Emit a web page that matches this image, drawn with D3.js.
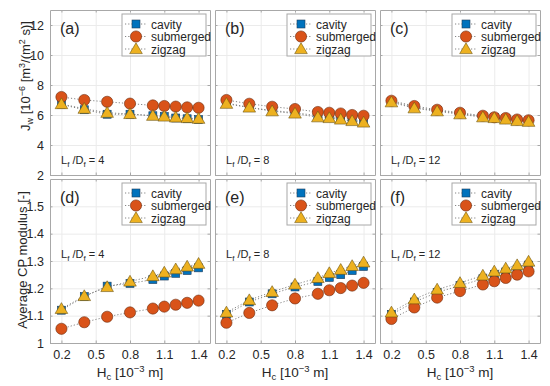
<!DOCTYPE html>
<html>
<head>
<meta charset="utf-8">
<script src="https://cdn.jsdelivr.net/npm/d3@7"></script>
<style>
  body { margin: 0; background: #fff; }
  text { font-family: "Liberation Sans", Arial, sans-serif; fill: #262626; }
</style>
</head>
<body>
<div id="chart"></div>
<script>
// x values (H_c, 10^-3 m)
var hc = [0.2, 0.4, 0.6, 0.8, 1.0, 1.1, 1.2, 1.3, 1.4];
var xTicks = [0.2, 0.5, 0.8, 1.1, 1.4];
var jwTicks = [2, 4, 6, 8, 10, 12];
var cpTicks = [1, 1.1, 1.2, 1.3, 1.4, 1.5];
var ratios = [4, 8, 12];
var panelLetters = ["(a)", "(b)", "(c)", "(d)", "(e)", "(f)"];
var seriesNames = ["cavity", "submerged", "zigzag"];

// water flux J_w, one array per ratio L_f/D_f
var jwCavity4 = [6.70, 6.35, 6.05, 6.05, 5.95, 5.90, 5.80, 5.75, 5.70];
var jwSubmerged4 = [7.20, 7.00, 6.88, 6.76, 6.64, 6.60, 6.56, 6.51, 6.48];
var jwZigzag4 = [6.73, 6.42, 6.15, 6.07, 5.95, 5.90, 5.84, 5.80, 5.75];
var jwCavity8 = [6.80, 6.50, 6.30, 6.15, 5.95, 5.90, 5.80, 5.70, 5.60];
var jwSubmerged8 = [7.00, 6.75, 6.55, 6.40, 6.20, 6.15, 6.10, 6.00, 5.95];
var jwZigzag8 = [6.75, 6.50, 6.25, 6.10, 5.85, 5.80, 5.70, 5.60, 5.50];
var jwCavity12 = [6.90, 6.50, 6.30, 6.10, 5.90, 5.85, 5.75, 5.65, 5.60];
var jwSubmerged12 = [6.95, 6.60, 6.35, 6.15, 5.95, 5.85, 5.80, 5.70, 5.65];
var jwZigzag12 = [6.85, 6.45, 6.25, 6.05, 5.85, 5.80, 5.70, 5.60, 5.55];

// average CP modulus
var cpCavity4 = [1.120, 1.170, 1.208, 1.218, 1.232, 1.245, 1.255, 1.265, 1.275];
var cpSubmerged4 = [1.052, 1.076, 1.096, 1.112, 1.126, 1.133, 1.140, 1.147, 1.155];
var cpZigzag4 = [1.125, 1.172, 1.205, 1.225, 1.245, 1.258, 1.270, 1.280, 1.290];
var cpCavity8 = [1.105, 1.150, 1.180, 1.205, 1.225, 1.240, 1.250, 1.265, 1.280];
var cpSubmerged8 = [1.074, 1.110, 1.138, 1.163, 1.180, 1.193, 1.201, 1.210, 1.220];
var cpZigzag8 = [1.112, 1.157, 1.187, 1.214, 1.238, 1.256, 1.268, 1.282, 1.295];
var cpCavity12 = [1.105, 1.150, 1.185, 1.210, 1.235, 1.250, 1.260, 1.270, 1.285];
var cpSubmerged12 = [1.088, 1.130, 1.166, 1.190, 1.214, 1.226, 1.238, 1.250, 1.262];
var cpZigzag12 = [1.112, 1.160, 1.196, 1.220, 1.247, 1.262, 1.273, 1.285, 1.298];

var jwData = [
  [jwCavity4, jwSubmerged4, jwZigzag4],
  [jwCavity8, jwSubmerged8, jwZigzag8],
  [jwCavity12, jwSubmerged12, jwZigzag12]
];
var cpData = [
  [cpCavity4, cpSubmerged4, cpZigzag4],
  [cpCavity8, cpSubmerged8, cpZigzag8],
  [cpCavity12, cpSubmerged12, cpZigzag12]
];

var width = 550, height = 386;
var colLeft = [50, 215, 380];
var panelW = 160;
var rows = [
  { top: 10, bottom: 175, domain: [2, 13], ticks: jwTicks, data: jwData, fmt: d3.format("d") },
  { top: 179, bottom: 343, domain: [1, 1.6], ticks: cpTicks, data: cpData, fmt: function (d) { return d === 1 ? "1" : d3.format(".1f")(d); } }
];
var fills = ["#0072BD", "#D95319", "#EDB120"];
var strokes = ["#1f3c5a", "#6b2a0c", "#6e5510"];
var frameColor = "#a8a8a8";

var svg = d3.select("#chart").append("svg")
  .attr("width", width)
  .attr("height", height);

function drawMarker(g, i) {
  if (i === 0) {
    g.append("rect").attr("x", -4).attr("y", -4).attr("width", 8).attr("height", 8)
      .attr("fill", fills[0]).attr("stroke", strokes[0]).attr("stroke-width", 0.6);
  } else if (i === 1) {
    g.append("circle").attr("r", 5.6)
      .attr("fill", fills[1]).attr("stroke", strokes[1]).attr("stroke-width", 0.6);
  } else {
    g.append("path").attr("d", "M0,-6.2L6.3,4.6L-6.3,4.6Z")
      .attr("fill", fills[2]).attr("stroke", strokes[2]).attr("stroke-width", 0.6);
  }
}

rows.forEach(function (row, r) {
  ratios.forEach(function (ratio, c) {
    var x = d3.scaleLinear().domain([0.1, 1.5]).range([colLeft[c], colLeft[c] + panelW]);
    var y = d3.scaleLinear().domain(row.domain).range([row.bottom, row.top]);
    var g = svg.append("g");

    // grid
    g.append("g")
      .attr("transform", "translate(0," + row.bottom + ")")
      .call(d3.axisBottom(x).tickValues(xTicks).tickSize(-(row.bottom - row.top)).tickFormat(""))
      .call(function (a) { a.select(".domain").remove(); a.selectAll("line").attr("stroke", "#ebebeb"); });
    g.append("g")
      .attr("transform", "translate(" + colLeft[c] + ",0)")
      .call(d3.axisLeft(y).tickValues(row.ticks).tickSize(-panelW).tickFormat(""))
      .call(function (a) { a.select(".domain").remove(); a.selectAll("line").attr("stroke", "#ebebeb"); });

    // frame with inward ticks
    var axB = g.append("g").attr("transform", "translate(0," + row.bottom + ")")
      .call(d3.axisBottom(x).tickValues(xTicks).tickSizeInner(-2.5).tickSizeOuter(0).tickPadding(7)
        .tickFormat(r === 1 ? d3.format(".1f") : ""));
    var axT = g.append("g").attr("transform", "translate(0," + row.top + ")")
      .call(d3.axisTop(x).tickValues(xTicks).tickSizeInner(-2.5).tickSizeOuter(0).tickFormat(""));
    var axL = g.append("g").attr("transform", "translate(" + colLeft[c] + ",0)")
      .call(d3.axisLeft(y).tickValues(row.ticks).tickSizeInner(-2.5).tickSizeOuter(0).tickPadding(6)
        .tickFormat(c === 0 ? row.fmt : ""));
    var axR = g.append("g").attr("transform", "translate(" + (colLeft[c] + panelW) + ",0)")
      .call(d3.axisRight(y).tickValues(row.ticks).tickSizeInner(-2.5).tickSizeOuter(0).tickFormat(""));
    [axB, axT, axL, axR].forEach(function (a) {
      a.select(".domain").attr("stroke", frameColor);
      a.selectAll(".tick line").attr("stroke", frameColor);
      a.selectAll(".tick text").attr("fill", "#333").style("font-size", "12.5px")
        .style("font-family", "Liberation Sans, Arial, sans-serif");
    });

    // series
    row.data[c].forEach(function (vals, i) {
      var pts = hc.map(function (h, k) { return [h, vals[k]]; });
      g.append("path")
        .datum(pts)
        .attr("fill", "none")
        .attr("stroke", "#777")
        .attr("stroke-width", 0.9)
        .attr("stroke-dasharray", "1.2,2")
        .attr("d", d3.line().x(function (d) { return x(d[0]); }).y(function (d) { return y(d[1]); }));
    });
    row.data[c].forEach(function (vals, i) {
      g.selectAll("g.m" + i)
        .data(hc.map(function (h, k) { return [h, vals[k]]; }))
        .enter().append("g")
        .attr("class", "m" + i)
        .attr("transform", function (d) { return "translate(" + x(d[0]) + "," + y(d[1]) + ")"; })
        .each(function () { drawMarker(d3.select(this), i); });
    });

    // panel letter
    g.append("text")
      .attr("x", colLeft[c] + 10)
      .attr("y", row.top + 24)
      .style("font-size", "16px")
      .text(panelLetters[r * 3 + c]);

    // ratio label
    var lab = g.append("text")
      .attr("x", colLeft[c] + 11)
      .attr("y", r === 0 ? row.top + 154 : row.top + 79)
      .style("font-size", "11px");
    lab.append("tspan").text("L");
    lab.append("tspan").attr("dy", 3).style("font-size", "8px").text("f");
    lab.append("tspan").attr("dy", -3).text(" /D");
    lab.append("tspan").attr("dy", 3).style("font-size", "8px").text("f");
    lab.append("tspan").attr("dy", -3).text(" = " + ratio);

    // legend
    var lx = colLeft[c] + 72, ly = row.top + 4;
    var leg = g.append("g").attr("transform", "translate(" + lx + "," + ly + ")");
    leg.append("rect").attr("width", 84).attr("height", 42)
      .attr("fill", "#fff").attr("stroke", frameColor).attr("stroke-width", 1);
    seriesNames.forEach(function (name, i) {
      var yy = 10 + i * 12.5;
      leg.append("line").attr("x1", 3).attr("x2", 25).attr("y1", yy).attr("y2", yy)
        .attr("stroke", "#777").attr("stroke-width", 0.9).attr("stroke-dasharray", "1.2,2");
      var m = leg.append("g").attr("transform", "translate(14," + yy + ")");
      drawMarker(m, i);
      leg.append("text").attr("x", 29).attr("y", yy + 4.5).style("font-size", "12px").text(name);
    });
  });
});

// y labels
var yl1 = svg.append("text")
  .attr("transform", "translate(30,76) rotate(-90)")
  .attr("text-anchor", "middle")
  .style("font-size", "13px");
yl1.append("tspan").text("J");
yl1.append("tspan").attr("dy", 3).style("font-size", "9px").text("w");
yl1.append("tspan").attr("dy", -3).text(" [10");
yl1.append("tspan").attr("dy", -5).style("font-size", "9px").text("\u22126");
yl1.append("tspan").attr("dy", 5).text(" [m");
yl1.append("tspan").attr("dy", -5).style("font-size", "9px").text("3");
yl1.append("tspan").attr("dy", 5).text("/(m");
yl1.append("tspan").attr("dy", -5).style("font-size", "9px").text("2");
yl1.append("tspan").attr("dy", 5).text(" s)]");

svg.append("text")
  .attr("transform", "translate(27,260) rotate(-90)")
  .attr("text-anchor", "middle")
  .style("font-size", "13px")
  .text("Average CP modulus [-]");

// x labels
colLeft.forEach(function (left) {
  var t = svg.append("text")
    .attr("x", left + panelW / 2)
    .attr("y", 377)
    .attr("text-anchor", "middle")
    .style("font-size", "13.5px");
  t.append("tspan").text("H");
  t.append("tspan").attr("dy", 3).style("font-size", "9.5px").text("c");
  t.append("tspan").attr("dy", -3).text(" [10");
  t.append("tspan").attr("dy", -5).style("font-size", "9.5px").text("\u22123");
  t.append("tspan").attr("dy", 5).text(" m]");
});
</script>
</body>
</html>
